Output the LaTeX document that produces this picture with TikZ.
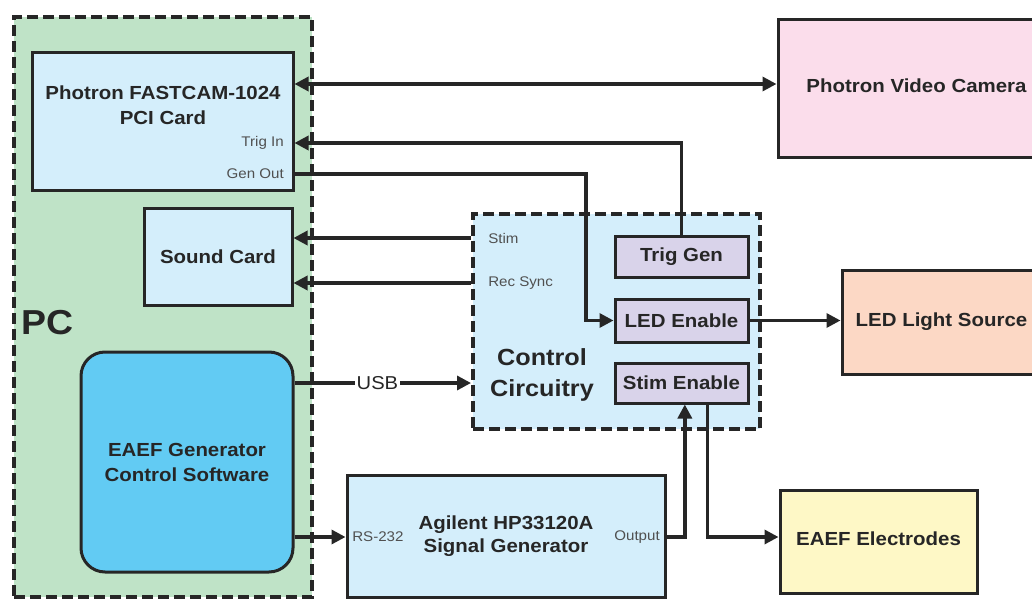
\documentclass[tikz,border=0pt]{standalone}
\usepackage{fontspec}
\setmainfont{Liberation Sans}[FakeStretch=1.08]
\usetikzlibrary{arrows.meta}
\definecolor{pcgreen}{HTML}{BFE3C7}
\definecolor{lblue}{HTML}{D4EEFB}
\definecolor{swblue}{HTML}{62CBF3}
\definecolor{lpurple}{HTML}{D9D3EA}
\definecolor{lpink}{HTML}{FBDDEB}
\definecolor{lpeach}{HTML}{FCD8C5}
\definecolor{lyellow}{HTML}{FEF8C6}
\definecolor{tdark}{HTML}{262626}
\definecolor{tgrey}{HTML}{505050}
\tikzset{
  x=0.75pt, y=-0.75pt,
  box/.style={draw=tdark, line width=2.25pt, inner sep=0pt, text=tdark,
    font=\bfseries\fontsize{14.2}{18.75}\selectfont, align=center},
  dashbox/.style={draw=tdark, line width=3pt, dash pattern=on 8pt off 4pt, inner sep=0pt},
  btext/.style={text=tdark, font=\bfseries\fontsize{14.2}{18.75}\selectfont, align=center, inner sep=0pt},
  lab/.style={text=tgrey, font=\fontsize{10.5}{12}\selectfont, inner sep=0pt},
  conn/.style={draw=tdark, line width=2.5pt},
  arr/.style={conn, -{Triangle[length=10.5pt,width=10.5pt]}},
  barr/.style={conn, {Triangle[length=10.5pt,width=10.5pt]}-{Triangle[length=10.5pt,width=10.5pt]}},
}
\begin{document}
\begin{tikzpicture}
\useasboundingbox (0,0) rectangle (1032,599);
\clip (0,0) rectangle (1032,599);
\fill[white] (0,0) rectangle (1032,599);

% PC
\node[dashbox, fill=pcgreen, minimum width=223.5pt, minimum height=435pt] (pc) at (163,307) {};
\node[text=tdark, font=\bfseries\fontsize{26}{30}\selectfont, inner sep=0pt, anchor=west] (pclabel) at (21,323) {PC};

\node[box, fill=lblue, minimum width=195.75pt, minimum height=103.5pt] (pci) at (162.5,122) {};
\node[btext] (pcitext) at (163,105.5) {Photron FASTCAM-1024\\PCI Card};
\node[lab, anchor=east] (trigin) at (284,143) {Trig In};
\node[lab, anchor=east] (genout) at (284,174) {Gen Out};

\node[box, fill=lblue, minimum width=111pt, minimum height=72pt] (sound) at (218,257) {Sound Card};

\node[box, fill=swblue, rounded corners=18pt, minimum width=159pt, minimum height=165pt] (sw) at (187,462) {EAEF Generator\\Control Software};

% Control circuitry
\node[dashbox, fill=lblue, minimum width=215.25pt, minimum height=161.25pt] (cc) at (616.5,321.5) {};
\node[text=tdark, font=\bfseries\fontsize{17.5}{23}\selectfont, align=center, inner sep=0pt] (cctext) at (542,375) {Control\\Circuitry};
\node[lab, anchor=west] (stimlbl) at (488,238) {Stim};
\node[lab, anchor=west] (reclbl) at (488,283) {Rec Sync};
\node[box, fill=lpurple, minimum width=99.75pt, minimum height=30pt] (trig) at (681.5,257) {Trig Gen};
\node[box, fill=lpurple, minimum width=99.75pt, minimum height=32.25pt] (led) at (681.5,320.5) {LED Enable};
\node[box, fill=lpurple, minimum width=99.75pt, minimum height=30pt] (stim) at (681.5,383) {Stim Enable};

% Right side
\node[box, fill=lpink, minimum width=207pt, minimum height=103.5pt] (cam) at (916,89) {};
\node[btext] (camtext) at (916.5,86) {Photron Video Camera};
\node[box, fill=lpeach, minimum width=149.25pt, minimum height=78pt] (ls) at (941.5,322) {LED Light Source};
\node[box, fill=lyellow, minimum width=147.75pt, minimum height=77.25pt] (el) at (878.5,541.5) {};
\node[btext] (eltext) at (878.5,539) {EAEF Electrodes};

% Signal generator
\node[box, fill=lblue, minimum width=238.5pt, minimum height=91.5pt] (sg) at (506,536) {};
\node[text=tdark, font=\bfseries\fontsize{14.2}{17.25}\selectfont, align=center, inner sep=0pt] (sgtext) at (506,536.5) {Agilent HP33120A\\Signal Generator};
\node[lab, anchor=west] (rs) at (352,537) {RS-232};
\node[lab, anchor=east] (outl) at (660,537) {Output};

% helper coordinates
\coordinate (yusb) at (0,383);
\coordinate (gbend) at (586,174);

% connectors
\draw[barr] (pci.east |- 0,84) -- ([yshift=3.75pt]cam.west);
\draw[arr] (trig.north) |- (pci.east |- trigin);
\draw[arr] (pci.east |- genout) -- (gbend) |- (led.west);
\draw[arr] (cc.west |- stimlbl) -- (sound.east |- stimlbl);
\draw[arr] (cc.west |- reclbl) -- (sound.east |- reclbl);
\draw[arr] (sw.east |- yusb) -- node[fill=white, inner sep=1.5pt, text=tdark, font=\fontsize{14}{16}\selectfont, pos=0.47] (usb) {USB} (cc.west |- yusb);
\draw[arr] (led.east) -- (ls.west |- led.east);
\draw[arr] (sw.east |- rs) -- (sg.west |- rs);
\draw[arr] (sg.east |- outl) -| ([xshift=2.5pt]stim.south);
\draw[arr] ([xshift=19.5pt]stim.south) |- (el.west |- outl);
\end{tikzpicture}
\end{document}
